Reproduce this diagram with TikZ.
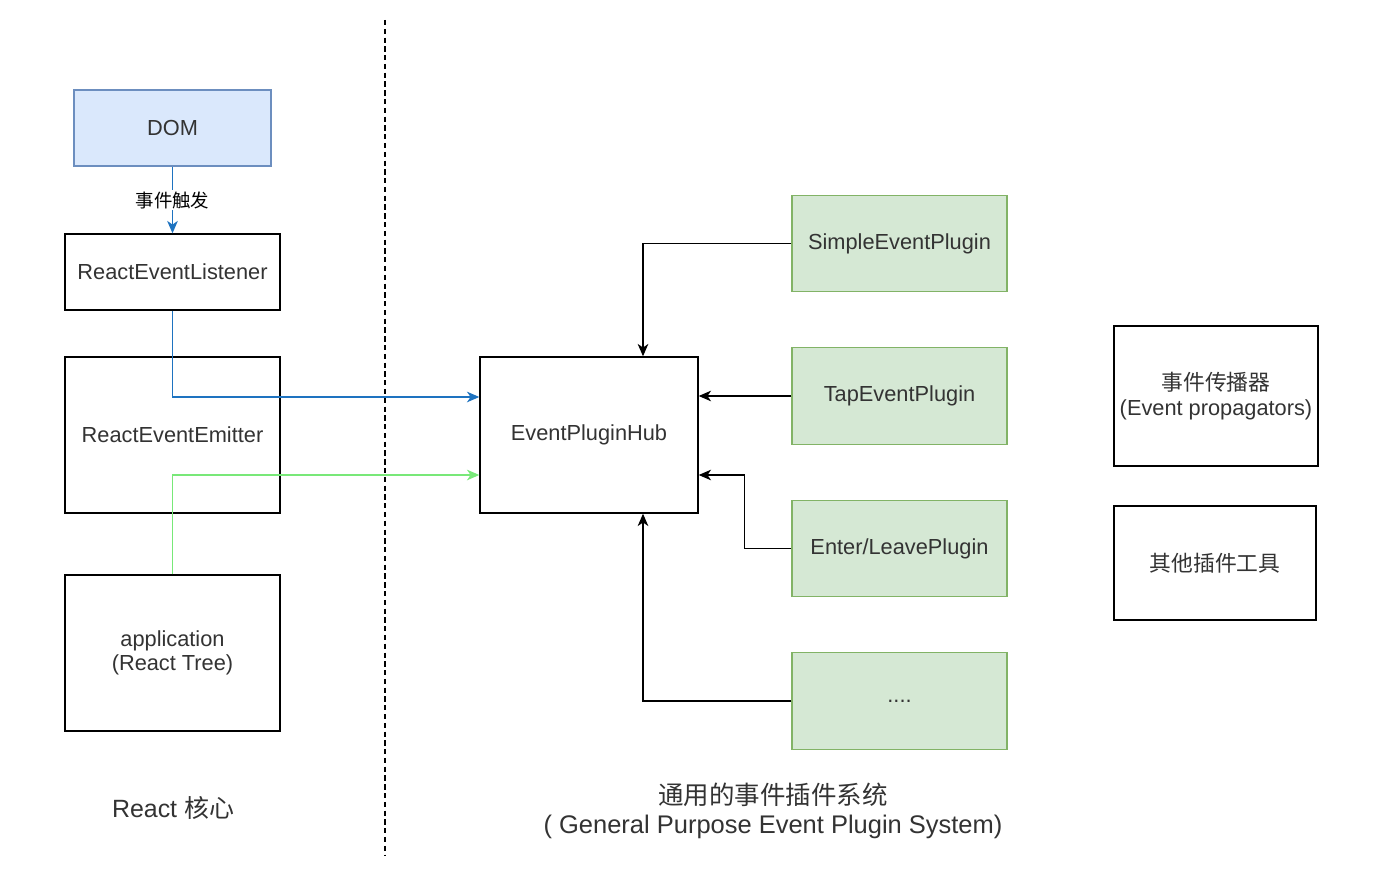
\documentclass[tikz,border=0pt]{standalone}
\usepackage{fontspec}
\setmainfont{Liberation Sans}
\newfontfamily\cjkfont{Noto Sans CJK SC}
\usetikzlibrary{shapes,arrows.meta,positioning,calc}
\definecolor{domblue}{RGB}{218,232,252}
\definecolor{domline}{RGB}{108,142,191}
\definecolor{plugfill}{RGB}{213,232,212}
\definecolor{plugline}{RGB}{130,179,102}
\definecolor{flowblue}{RGB}{30,115,192}
\definecolor{flowgreen}{RGB}{120,232,120}
\definecolor{txtgray}{RGB}{51,51,51}

\begin{document}
\begin{tikzpicture}[x=0.02cm, y=-0.02cm, >={Stealth[length=7pt,width=6pt,inset=2pt]},
    box/.style={draw, line width=0.8pt, inner sep=0pt, minimum width=4.3cm, align=center,
      text=txtgray, font=\fontsize{12.4}{14}\selectfont},
    plugin/.style={box, draw=plugline, fill=plugfill, minimum height=1.93cm},
    link/.style={->, line width=0.85pt}]
  \useasboundingbox[fill=white] (0,0) rectangle (1392,892);

  % React core
  \node[box, draw=domline, fill=domblue, minimum width=3.94cm, minimum height=1.52cm] (dom) at (172.5,128) {DOM};
  \node[box, minimum height=1.52cm] (listener) at (172.5,272) {ReactEventListener};
  \node[box, minimum height=3.12cm] (emitter) at (172.5,435) {ReactEventEmitter};
  \node[box, minimum height=3.12cm] (app) at (172.5,653) {application\\(React Tree)};
  \node[text=txtgray, font=\fontsize{14.2}{16}\selectfont] (corelabel) at (173,808) {React {\cjkfont 核心}};

  \draw[dashed, line width=0.7pt, dash pattern=on 3pt off 2pt] (385,20) -- (385,855);

  % Plugin system
  \node[box, minimum width=4.36cm, minimum height=3.12cm] (hub) at (589,435) {EventPluginHub};
  \node[plugin] (simple) at (899.5,243.5) {SimpleEventPlugin};
  \node[plugin] (tap) at (899.5,396) {TapEventPlugin};
  \node[plugin] (enter) at (899.5,548.5) {Enter/LeavePlugin};
  \node[plugin] (more) at (899.5,701) {....};
  \node[text=txtgray, align=center, font=\fontsize{14.5}{16.5}\selectfont] (syslabel) at (773,811)
    {{\cjkfont 通用的事件插件系统}\\( General Purpose Event Plugin System)};

  % tools
  \node[box, minimum width=4.08cm, minimum height=2.8cm] (prop) at (1216,396)
    {{\cjkfont 事件传播器}\\(Event propagators)};
  \node[box, minimum width=4.04cm, minimum height=2.28cm] (tools) at (1215,563) {\cjkfont 其他插件工具};

  % hub entry points
  \coordinate (hubin1) at ($(hub.west)+(0,-38)$);
  \coordinate (hubin2) at ($(hub.west)+(0,40)$);
  \coordinate (hubin3) at ($(hub.east)+(0,40)$);
  \coordinate (hubtop) at ($(hub.north)+(54,0)$);
  \coordinate (hubbot) at ($(hub.south)+(54,0)$);

  \draw[link, flowblue] (dom) -- node[fill=white, inner sep=1pt, text=black, font=\cjkfont\fontsize{10.5}{12}\selectfont] {事件触发} (listener);
  \draw[link, flowblue] (listener.south) |- (hubin1);
  \draw[link, flowgreen] (app.north) |- (hubin2);
  \draw[link] (simple.west) -| (hubtop);
  \draw[link] (tap.west) -- (tap.west -| hub.east);
  \draw[link] (enter.west) -- ++(-47,0) |- (hubin3);
  \draw[link] (more.west) -| (hubbot);
\end{tikzpicture}
\end{document}
